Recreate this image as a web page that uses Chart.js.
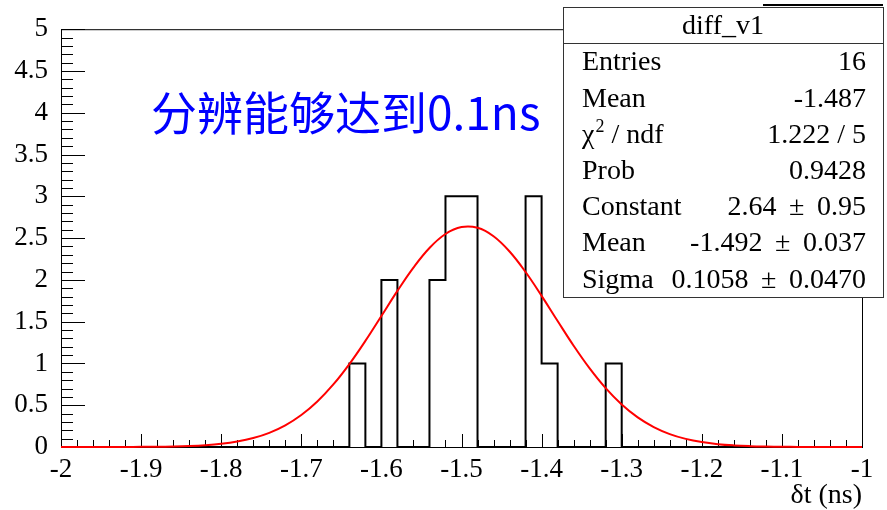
<!DOCTYPE html>
<html lang="en">
<head>
    <meta charset="UTF-8">
    <title>diff_v1</title>
    <script src="https://cdn.jsdelivr.net/npm/chart.js"></script>
</head>
<style>
    body { margin: 0; background: #fff; }
</style>
<body>
<canvas id="diffChart" width="887" height="510"></canvas>
<script>
    // binning of diff_v1: 50 bins on [-2, -1]
    const xMin = -2;
    const xMax = -1;
    const binWidth = 0.02;
    const binCounts = [
        0, 0, 0, 0, 0, 0, 0, 0, 0, 0,
        0, 0, 0, 0, 0, 0, 0, 0, 1, 0,
        2, 0, 0, 2, 3, 3, 0, 0, 0, 3,
        1, 0, 0, 0, 1, 0, 0, 0, 0, 0,
        0, 0, 0, 0, 0, 0, 0, 0, 0, 0
    ];

    // gaus fit curve, one sample every 0.02 from -2 to -1
    const fitStep = 0.02;
    const fitValues = [
        0.0000, 0.0001, 0.0002, 0.0003, 0.0007, 0.0016, 0.0032, 0.0062, 0.0118, 0.0216,
        0.0381, 0.0650, 0.1067, 0.1692, 0.2589, 0.3823, 0.5444, 0.7484, 0.9924, 1.270,
        1.568, 1.868, 2.147, 2.382, 2.549, 2.632, 2.623, 2.522, 2.340, 2.094,
        1.809, 1.508, 1.212, 0.9406, 0.7041, 0.5087, 0.3546, 0.2385, 0.1547, 0.0969,
        0.0586, 0.0341, 0.0192, 0.0104, 0.0055, 0.0028, 0.0013, 0.0006, 0.0003, 0.0001,
        0.0001
    ];

    const xTickLabels = ['-2', '-1.9', '-1.8', '-1.7', '-1.6', '-1.5', '-1.4', '-1.3', '-1.2', '-1.1', '-1'];
    const yTickLabels = ['0', '0.5', '1', '1.5', '2', '2.5', '3', '3.5', '4', '4.5', '5'];

    // stat box rows
    const statTitle = 'diff_v1';
    const statNames = ['Entries', 'Mean', '\u03c7^2 / ndf', 'Prob', 'Constant', 'Mean', 'Sigma'];
    const statValues = ['16', '-1.487', '1.222 / 5', '0.9428', '2.64 \u00b1 0.95', '-1.492 \u00b1 0.037', '0.1058 \u00b1 0.0470'];

    const noteText = '分辨能够达到0.1ns';

    const serif = 'Liberation Serif';

    // build the point lists for the library
    const histPoints = binCounts.map((c, i) => ({ x: xMin + i * binWidth, y: c }));
    histPoints.push({ x: xMax, y: binCounts[binCounts.length - 1] });
    const fitPoints = fitValues.map((v, i) => ({ x: xMin + i * fitStep, y: v }));

    // frame and inward ticks, ROOT style
    const frameTicks = {
        id: 'frameTicks',
        beforeDatasetsDraw(chart) {
            const { ctx, chartArea: a, scales: { x, y } } = chart;
            ctx.save();
            ctx.strokeStyle = '#000';
            ctx.lineWidth = 1;
            ctx.strokeRect(a.left + 0.5, a.top + 0.5, a.right - a.left, a.bottom - a.top);
            ctx.beginPath();
            for (let i = 0; i <= 50; i++) {
                const px = Math.round(x.getPixelForValue(xMin + i * 0.02)) + 0.5;
                const len = i % 5 === 0 ? 13 : 7;
                ctx.moveTo(px, a.bottom);
                ctx.lineTo(px, a.bottom - len);
            }
            for (let j = 0; j <= 50; j++) {
                const py = Math.round(y.getPixelForValue(j * 0.1)) + 0.5;
                const len = j % 5 === 0 ? 24 : 12;
                ctx.moveTo(a.left, py);
                ctx.lineTo(a.left + len, py);
            }
            ctx.stroke();
            ctx.restore();
        }
    };

    function font(size) {
        return size + 'px "' + serif + '"';
    }

    // stats box and the blue note
    const overlay = {
        id: 'overlay',
        afterDraw(chart) {
            const ctx = chart.ctx;
            ctx.save();

            ctx.fillStyle = '#0000ff';
            ctx.font = '46px "Noto Sans CJK SC"';
            ctx.textAlign = 'left';
            ctx.textBaseline = 'middle';
            ctx.fillText(noteText, 151, 113);

            const bx = 563, by = 7, bw = 320, bh = 290;
            ctx.fillStyle = '#fff';
            ctx.fillRect(bx, by, bw, bh);
            ctx.strokeStyle = '#333';
            ctx.lineWidth = 1;
            ctx.strokeRect(bx + 0.5, by + 0.5, bw, bh);
            ctx.beginPath();
            ctx.moveTo(bx, 43.5);
            ctx.lineTo(bx + bw, 43.5);
            ctx.stroke();
            ctx.strokeStyle = '#000';
            ctx.lineWidth = 2;
            ctx.beginPath();
            ctx.moveTo(763, 5);
            ctx.lineTo(883, 5);
            ctx.stroke();

            ctx.fillStyle = '#000';
            ctx.font = font(28);
            ctx.textAlign = 'center';
            ctx.fillText(statTitle, bx + bw / 2, 27);

            statNames.forEach((name, k) => {
                const ty = 63 + k * 36.2;
                ctx.textAlign = 'left';
                ctx.font = font(28);
                if (name.includes('^')) {
                    // chi2 with a raised 2
                    const [base, rest] = name.split('^');
                    ctx.fillText(base, 582, ty);
                    let w = ctx.measureText(base).width;
                    ctx.font = font(18);
                    ctx.fillText(rest[0], 582 + w + 1, ty - 8);
                    w += ctx.measureText(rest[0]).width + 1;
                    ctx.font = font(28);
                    ctx.fillText(rest.slice(1), 582 + w, ty);
                } else {
                    ctx.fillText(name, 582, ty);
                }
                ctx.textAlign = 'right';
                ctx.fillText(statValues[k].replace(' \u00b1 ', ' \u2009\u00b1\u2009 '), 866, ty);
            });
            ctx.restore();
        }
    };

    const tickFont = { family: serif, size: 27 };

    new Chart(document.getElementById('diffChart'), {
        type: 'line',
        data: {
            datasets: [{
                label: 'gaus',
                data: fitPoints,
                borderColor: '#ff0000',
                borderWidth: 2,
                pointRadius: 0,
                tension: 0.4,
                fill: false,
                clip: false
            }, {
                label: 'diff_v1',
                data: histPoints,
                stepped: 'before',
                borderColor: '#000',
                borderWidth: 2,
                pointRadius: 0,
                fill: false,
                clip: false
            }]
        },
        options: {
            responsive: false,
            animation: false,
            layout: { padding: { top: 16, right: 25, left: 0, bottom: 0 } },
            plugins: { legend: { display: false }, tooltip: { enabled: false } },
            scales: {
                x: {
                    type: 'linear',
                    min: xMin,
                    max: xMax,
                    grid: { display: false, drawTicks: false },
                    border: { display: false },
                    ticks: {
                        stepSize: 0.1,
                        autoSkip: false,
                        maxRotation: 0,
                        padding: 7,
                        color: '#000',
                        font: tickFont,
                        callback: (v, i) => xTickLabels[i]
                    },
                    title: {
                        display: true,
                        text: '\u03b4t (ns)',
                        align: 'end',
                        color: '#000',
                        font: { family: serif, size: 28, lineHeight: 1 },
                        padding: 0
                    },
                    afterFit: s => { s.height = 63; }
                },
                y: {
                    min: 0,
                    max: 5,
                    grid: { display: false, drawTicks: false },
                    border: { display: false },
                    ticks: {
                        stepSize: 0.5,
                        padding: 13,
                        color: '#000',
                        font: tickFont,
                        callback: (v, i) => yTickLabels[i]
                    },
                    afterFit: s => { s.width = 61; }
                }
            }
        },
        plugins: [frameTicks, overlay]
    });
</script>
</body>
</html>
